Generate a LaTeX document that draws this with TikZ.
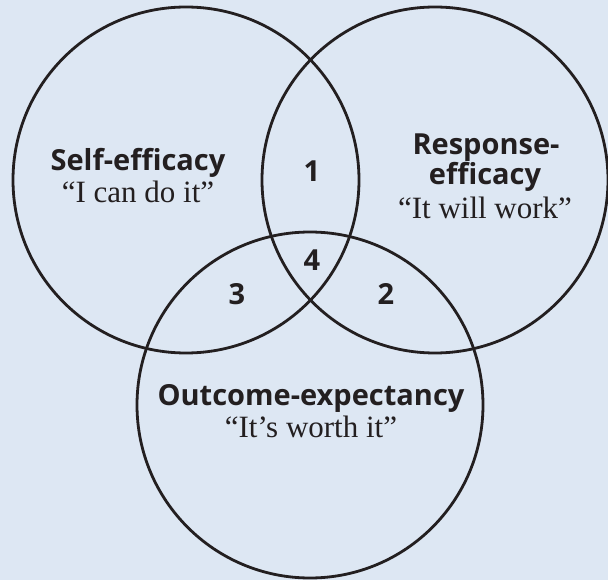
\documentclass[tikz,border=0pt]{standalone}
\usepackage{fontspec}
\setmainfont{Liberation Serif}
\newfontfamily\headfont{Open Sans}

\definecolor{bgblue}{HTML}{DDE7F3}
\definecolor{ink}{HTML}{231F20}

\begin{document}
\begin{tikzpicture}[x=1pt,y=-1pt]
\fill[bgblue] (0,0) rectangle (608,580);
\useasboundingbox (0,0) rectangle (608,580);

\begin{scope}[every node/.style={circle,draw=ink,line width=2.8pt,minimum size=346pt,inner sep=0pt}]
    \node (self) at (186, 180) {};
    \node (resp) at (435, 180) {};
    \node (outc) at (310, 405) {};
\end{scope}

\begin{scope}[every node/.style={text=ink,anchor=base,inner sep=0pt}]
    \node (selfhead) at (138, 171) [font=\headfont\bfseries\fontsize{29}{34}\selectfont] {Self-efficacy};
    \node (selfquote) at (138, 203) [font=\fontsize{31}{36}\selectfont] {“I can do it”};

    \node (resphead) at (486, 155) [font=\headfont\bfseries\fontsize{29}{34}\selectfont] {Response-};
    \node (resphead2) at (485, 185) [font=\headfont\bfseries\fontsize{29}{34}\selectfont] {efficacy};
    \node (respquote) at (485, 219) [font=\fontsize{31}{36}\selectfont] {“It will work”};

    \node (outchead) at (311, 405) [font=\headfont\bfseries\fontsize{29}{34}\selectfont] {Outcome-expectancy};
    \node (outcquote) at (311, 437) [font=\fontsize{31}{36}\selectfont] {“It’s worth it”};

    \node (n1) at (312, 182) [font=\headfont\bfseries\fontsize{29}{34}\selectfont] {1};
    \node (n4) at (312, 270) [font=\headfont\bfseries\fontsize{29}{34}\selectfont] {4};
    \node (n3) at (237, 305) [font=\headfont\bfseries\fontsize{29}{34}\selectfont] {3};
    \node (n2) at (386, 305) [font=\headfont\bfseries\fontsize{29}{34}\selectfont] {2};
\end{scope}
\end{tikzpicture}
\end{document}
